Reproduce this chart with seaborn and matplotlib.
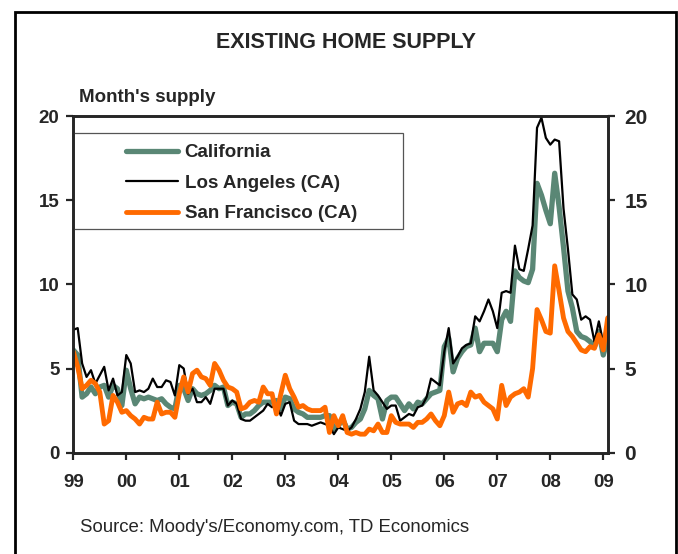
import seaborn as sns
import matplotlib.pyplot as plt
import matplotlib.patches as mpatches
import pandas as pd

# monthly, Jan 1999 .. Feb 2009
california = [
    6.1, 5.8, 3.3, 3.5, 3.9, 3.5, 3.9, 4.0, 3.3, 4.0, 3.8, 2.8,
    4.9, 3.8, 2.9, 3.3, 3.2, 3.3, 3.2, 3.1, 3.2, 2.9, 2.7, 2.6,
    4.0, 3.8, 3.1, 3.8, 3.5, 3.4, 3.5, 3.7, 4.0, 3.8, 3.9, 2.8,
    3.0, 2.9, 2.1, 2.3, 2.3, 2.5, 2.8, 3.0, 3.0, 3.0, 3.1, 2.6,
    3.3, 3.2, 2.6, 2.4, 2.3, 2.1, 2.1, 2.1, 2.1, 2.2, 2.2, 1.4,
    1.6, 2.0, 1.4, 1.5, 1.8, 2.0, 2.6, 3.7, 3.4, 3.2, 2.0, 3.1,
    3.3, 3.3, 2.9, 2.5, 2.9, 2.6, 3.0, 2.9, 3.2, 3.5, 3.6, 3.7,
    6.3, 6.8, 4.8, 5.6, 6.0, 6.3, 6.4, 7.4, 6.0, 6.5, 6.5, 6.5,
    6.0, 7.9, 8.4, 7.8, 10.8, 10.4, 10.2, 10.1, 10.9, 16.0, 15.3, 14.4,
    13.6, 16.6, 14.6, 12.2, 9.6, 8.6, 7.2, 6.9, 6.8, 6.6, 6.3, 7.2,
    5.8, 6.8,
]

los_angeles = [
    7.3, 7.4, 5.3, 4.5, 4.9, 4.1, 4.6, 5.1, 3.7, 4.4, 3.4, 3.6,
    5.8, 5.3, 3.6, 3.7, 3.6, 3.8, 4.4, 3.9, 3.9, 4.3, 4.2, 3.4,
    5.2, 5.0, 3.5, 3.8, 3.0, 3.0, 3.3, 2.9, 3.8, 3.8, 3.8, 2.8,
    3.1, 2.9, 2.0, 1.9, 1.9, 2.1, 2.3, 2.5, 2.9, 2.7, 2.9, 2.2,
    2.9, 3.0, 1.9, 1.7, 1.7, 1.7, 1.6, 1.7, 1.8, 1.7, 1.6, 1.1,
    1.5, 1.4, 1.3, 1.5, 2.0, 2.6, 3.6, 5.7, 3.7, 3.4, 3.0, 2.6,
    2.8, 2.8, 1.9, 2.1, 2.3, 2.2, 2.7, 2.8, 3.3, 4.4, 4.2, 4.0,
    6.0, 7.4, 5.3, 5.7, 6.2, 6.4, 6.5, 8.1, 7.8, 8.4, 9.1, 8.4,
    7.4, 9.5, 9.6, 9.5, 12.3, 10.9, 10.8, 12.1, 13.5, 19.3, 19.9, 18.7,
    18.3, 18.6, 18.5, 14.5, 12.1, 9.4, 9.1, 7.9, 8.1, 7.9, 6.6, 7.8,
    6.5, 8.1,
]

san_francisco = [
    6.0, 5.1, 3.8, 4.0, 4.3, 4.1, 3.6, 1.7, 1.9, 3.4, 3.0, 2.4,
    2.5, 2.2, 2.0, 1.7, 2.1, 2.0, 2.0, 3.0, 2.3, 2.4, 2.4, 2.1,
    3.5, 4.5, 3.6, 4.7, 4.9, 4.5, 4.4, 4.0, 5.3, 4.9, 4.3, 3.9,
    3.8, 3.6, 2.6, 2.7, 3.0, 3.1, 3.0, 3.9, 3.5, 3.5, 2.3, 3.5,
    4.6, 3.8, 3.3, 2.7, 2.8, 2.6, 2.5, 2.5, 2.5, 2.7, 1.2, 2.2,
    1.6, 2.2, 1.2, 1.1, 1.2, 1.1, 1.1, 1.4, 1.3, 1.7, 1.2, 1.2,
    2.2, 1.8, 1.7, 1.7, 1.7, 1.5, 1.8, 1.8, 2.0, 2.3, 1.9, 1.6,
    2.2, 3.6, 2.4, 2.9, 3.0, 2.8, 3.6, 3.3, 3.4, 3.0, 2.8, 2.6,
    2.0, 4.0, 2.8, 3.3, 3.5, 3.6, 3.8, 3.3, 5.0, 8.5, 7.9, 7.2,
    7.1, 11.1, 9.6, 8.0, 7.2, 6.9, 6.5, 6.1, 6.0, 6.3, 6.2, 7.0,
    6.1, 8.0,
]

year_labels = ['99', '00', '01', '02', '03', '04', '05', '06', '07', '08', '09']
y_ticks = [0, 5, 10, 15, 20]

df = pd.DataFrame({
    'month': range(len(california)),
    'California': california,
    'Los Angeles (CA)': los_angeles,
    'San Francisco (CA)': san_francisco,
})

sns.set_style('white')
plt.rcParams['font.family'] = ['Liberation Sans', 'DejaVu Sans']
plt.rcParams['font.weight'] = 'bold'

fig = plt.figure(figsize=(6.78, 5.54), dpi=100)
ax = fig.add_axes([0.1081, 0.1829, 0.7882, 0.6077])

sns.lineplot(data=df, x='month', y='California', ax=ax, color='#5a8775',
             linewidth=3.8, label='California')
sns.lineplot(data=df, x='month', y='Los Angeles (CA)', ax=ax, color='black',
             linewidth=1.6, label='Los Angeles (CA)')
sns.lineplot(data=df, x='month', y='San Francisco (CA)', ax=ax, color='#ff6a00',
             linewidth=3.5, label='San Francisco (CA)')

ax.set_xlim(0, 121)
ax.set_ylim(0, 20)
ax.set_xticks(range(0, 121, 12))
ax.set_xticklabels(year_labels)
ax.set_yticks(y_ticks)
ax.set_xlabel('')
ax.set_ylabel('')
for sp in ax.spines.values():
    sp.set_linewidth(1.8)
    sp.set_color('black')
ax.tick_params(axis='x', direction='out', length=5, width=1.6, pad=10,
               labelsize=13.5, bottom=True)
ax.tick_params(axis='y', direction='out', length=5, width=1.6, pad=5,
               labelsize=13.5, left=True)

ax2 = ax.twinx()
ax2.set_ylim(0, 20)
ax2.set_yticks(y_ticks)
ax2.tick_params(axis='y', direction='out', length=5, width=1.6, pad=7,
                labelsize=15, right=True)
for sp in ax2.spines.values():
    sp.set_linewidth(1.8)

# legend box
ax.add_patch(mpatches.Rectangle((0.0, 0.664), 0.617, 0.286, transform=ax.transAxes,
                                fill=False, edgecolor='#555555', linewidth=0.9,
                                zorder=5))
leg = ax.legend(loc='upper left', bbox_to_anchor=(0.098, 0.917), frameon=False,
                fontsize=13.5, handlelength=2.8, handletextpad=0.35,
                labelspacing=0.72, borderpad=0, borderaxespad=0)

fig.text(0.511, 1 - 42 / 554, 'EXISTING HOME SUPPLY', ha='center', va='center',
         fontsize=15.5, fontweight='bold')
fig.text(79 / 678, 1 - 102 / 554, "Month's supply", ha='left', va='baseline',
         fontsize=13.5, fontweight='bold')
fig.text(80 / 678, 1 - 528 / 554, "Source: Moody's/Economy.com, TD Economics",
         ha='left', va='center', fontsize=13.4, fontweight='normal')

# outer frame
fig.add_artist(mpatches.Rectangle((15 / 678, -0.02), 661 / 678, 1 - 12 / 554 + 0.02,
                                  transform=fig.transFigure, fill=False,
                                  edgecolor='black', linewidth=2.0))

fig.savefig('out.png', dpi=100)
